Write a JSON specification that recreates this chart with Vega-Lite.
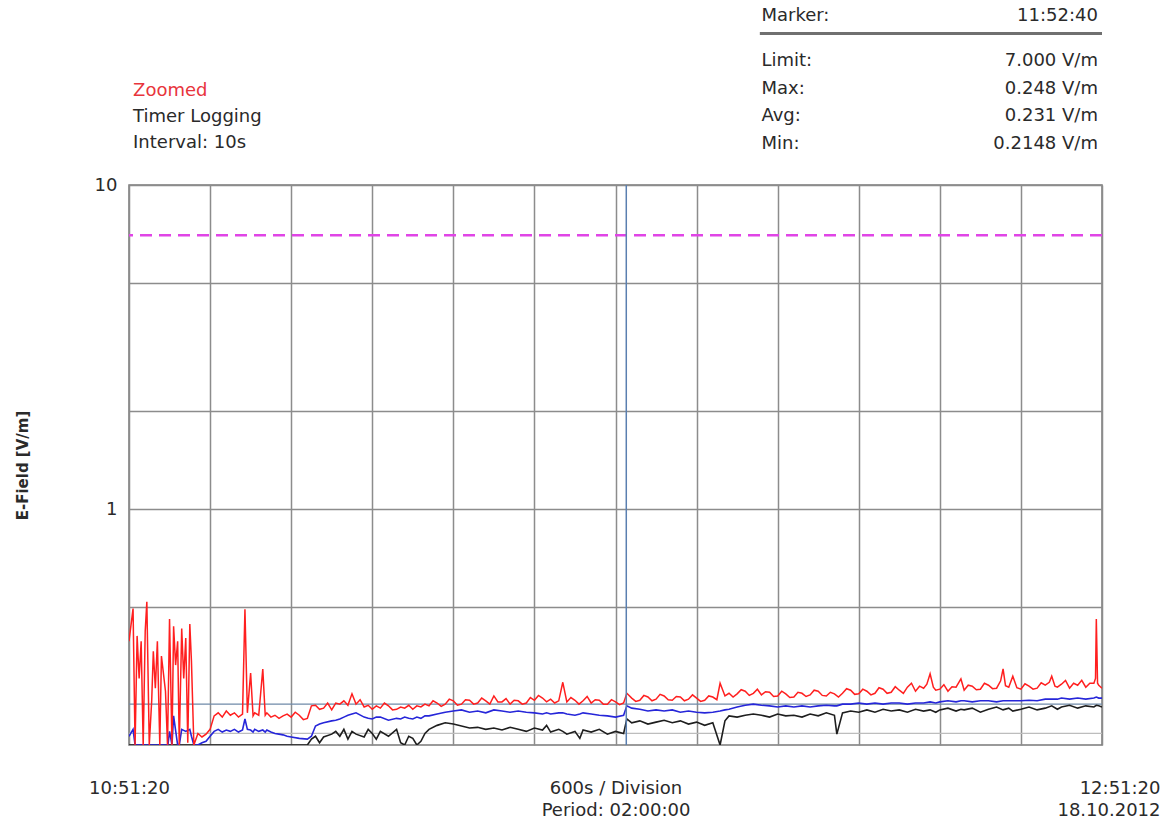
{
  "$schema": "https://vega.github.io/schema/vega-lite/v6.json",
  "background": "white",
  "padding": {"left": 14, "top": 5, "right": 5, "bottom": 5},
  "spacing": 10,
  "config": {"font": "DejaVu Sans", "view": {"stroke": null}},
  "datasets": {
    "trace": [
      {"t":0,"avg":0.199,"min":0.187},
      {"t":0.5,"avg":0.209,"min":0.187},
      {"t":0.75,"avg":0.187,"min":0.187},
      {"t":1,"avg":0.187,"min":0.187},
      {"t":2,"avg":0.187,"min":0.187},
      {"t":3,"avg":0.187,"min":0.187},
      {"t":4,"avg":0.187,"min":0.187},
      {"t":4.8,"avg":0.187,"min":0.187},
      {"t":5,"avg":0.206,"min":0.187},
      {"t":5.3,"avg":0.187,"min":0.187},
      {"t":5.5,"avg":0.230,"min":0.187},
      {"t":6,"avg":0.187,"min":0.187},
      {"t":6.2,"avg":0.187,"min":0.187},
      {"t":6.5,"avg":0.209,"min":0.187},
      {"t":7,"avg":0.206,"min":0.187},
      {"t":7.5,"avg":0.209,"min":0.187},
      {"t":7.7,"avg":0.199,"min":0.187},
      {"t":8,"avg":0.187,"min":0.187},
      {"t":8.5,"avg":0.187,"min":0.187},
      {"t":9,"avg":0.190,"min":0.187},
      {"t":9.5,"avg":0.192,"min":0.187},
      {"t":10,"avg":0.199,"min":0.187},
      {"t":10.5,"avg":0.206,"min":0.187},
      {"t":11,"avg":0.209,"min":0.187},
      {"t":11.5,"avg":0.205,"min":0.187},
      {"t":12,"avg":0.208,"min":0.187},
      {"t":12.5,"avg":0.206,"min":0.187},
      {"t":13,"avg":0.209,"min":0.187},
      {"t":13.5,"avg":0.205,"min":0.187},
      {"t":14,"avg":0.208,"min":0.187},
      {"t":14.3,"avg":0.225,"min":0.187},
      {"t":14.6,"avg":0.209,"min":0.187},
      {"t":15,"avg":0.208,"min":0.187},
      {"t":15.3,"avg":0.205,"min":0.187},
      {"t":15.5,"avg":0.209,"min":0.187},
      {"t":16,"avg":0.206,"min":0.187},
      {"t":16.5,"avg":0.208,"min":0.187},
      {"t":16.8,"avg":0.205,"min":0.187},
      {"t":17,"avg":0.208,"min":0.187},
      {"t":17.5,"avg":0.205,"min":0.187},
      {"t":18,"avg":0.203,"min":0.187},
      {"t":18.5,"avg":0.202,"min":0.187},
      {"t":19,"avg":0.201,"min":0.187},
      {"t":19.5,"avg":0.199,"min":0.187},
      {"t":20,"avg":0.198,"min":0.187},
      {"t":21,"avg":0.196,"min":0.187},
      {"t":22,"avg":0.195,"min":0.187},
      {"t":22.5,"avg":0.199,"min":0.195},
      {"t":23,"avg":0.214,"min":0.199},
      {"t":23.5,"avg":0.217,"min":0.190},
      {"t":24,"avg":0.219,"min":0.198},
      {"t":25,"avg":0.222,"min":0.202},
      {"t":25.5,"avg":0.223,"min":0.206},
      {"t":26,"avg":0.225,"min":0.199},
      {"t":26.5,"avg":0.228,"min":0.209},
      {"t":27,"avg":0.231,"min":0.195},
      {"t":27.5,"avg":0.233,"min":0.206},
      {"t":28,"avg":0.235,"min":0.202},
      {"t":29,"avg":0.228,"min":0.198},
      {"t":29.5,"avg":0.226,"min":0.209},
      {"t":30,"avg":0.225,"min":0.203},
      {"t":30.5,"avg":0.228,"min":0.195},
      {"t":31,"avg":0.228,"min":0.206},
      {"t":32,"avg":0.223,"min":0.199},
      {"t":33,"avg":0.226,"min":0.209},
      {"t":33.5,"avg":0.225,"min":0.190},
      {"t":34,"avg":0.228,"min":0.187},
      {"t":34.5,"avg":0.226,"min":0.199},
      {"t":35,"avg":0.225,"min":0.196},
      {"t":35.5,"avg":0.228,"min":0.187},
      {"t":36,"avg":0.226,"min":0.192},
      {"t":36.5,"avg":0.230,"min":0.203},
      {"t":37,"avg":0.230,"min":0.209},
      {"t":38,"avg":0.233,"min":0.215},
      {"t":39,"avg":0.236,"min":0.219},
      {"t":40,"avg":0.238,"min":0.217},
      {"t":41,"avg":0.240,"min":0.214},
      {"t":42,"avg":0.236,"min":0.211},
      {"t":43,"avg":0.238,"min":0.212},
      {"t":44,"avg":0.235,"min":0.209},
      {"t":45,"avg":0.240,"min":0.211},
      {"t":46,"avg":0.238,"min":0.208},
      {"t":47,"avg":0.236,"min":0.212},
      {"t":48,"avg":0.238,"min":0.209},
      {"t":49,"avg":0.236,"min":0.206},
      {"t":50,"avg":0.235,"min":0.211},
      {"t":51,"avg":0.233,"min":0.208},
      {"t":51.5,"avg":0.235,"min":0.215},
      {"t":52,"avg":0.233,"min":0.205},
      {"t":53,"avg":0.235,"min":0.209},
      {"t":53.5,"avg":0.235,"min":0.206},
      {"t":54,"avg":0.233,"min":0.202},
      {"t":55,"avg":0.231,"min":0.206},
      {"t":55.6,"avg":0.233,"min":0.196},
      {"t":56,"avg":0.235,"min":0.208},
      {"t":57,"avg":0.233,"min":0.205},
      {"t":58,"avg":0.231,"min":0.209},
      {"t":59,"avg":0.230,"min":0.202},
      {"t":60,"avg":0.228,"min":0.206},
      {"t":61,"avg":0.231,"min":0.203},
      {"t":61.4,"avg":0.247,"min":0.225},
      {"t":62,"avg":0.243,"min":0.219},
      {"t":63,"avg":0.241,"min":0.222},
      {"t":64,"avg":0.238,"min":0.217},
      {"t":65,"avg":0.240,"min":0.220},
      {"t":66,"avg":0.238,"min":0.223},
      {"t":67,"avg":0.240,"min":0.219},
      {"t":68,"avg":0.236,"min":0.222},
      {"t":69,"avg":0.238,"min":0.217},
      {"t":70,"avg":0.236,"min":0.220},
      {"t":71,"avg":0.235,"min":0.215},
      {"t":72,"avg":0.236,"min":0.219},
      {"t":72.9,"avg":0.238,"min":0.187},
      {"t":73.5,"avg":0.240,"min":0.222},
      {"t":74,"avg":0.241,"min":0.230},
      {"t":75,"avg":0.245,"min":0.228},
      {"t":76,"avg":0.248,"min":0.231},
      {"t":77,"avg":0.250,"min":0.233},
      {"t":78,"avg":0.248,"min":0.231},
      {"t":79,"avg":0.247,"min":0.228},
      {"t":80,"avg":0.245,"min":0.233},
      {"t":81,"avg":0.247,"min":0.230},
      {"t":82,"avg":0.245,"min":0.231},
      {"t":83,"avg":0.247,"min":0.228},
      {"t":84,"avg":0.245,"min":0.233},
      {"t":85,"avg":0.247,"min":0.230},
      {"t":86,"avg":0.248,"min":0.235},
      {"t":87,"avg":0.247,"min":0.231},
      {"t":87.3,"avg":0.247,"min":0.202},
      {"t":88,"avg":0.250,"min":0.235},
      {"t":89,"avg":0.250,"min":0.238},
      {"t":90,"avg":0.252,"min":0.236},
      {"t":91,"avg":0.250,"min":0.240},
      {"t":92,"avg":0.252,"min":0.236},
      {"t":93,"avg":0.250,"min":0.241},
      {"t":94,"avg":0.252,"min":0.238},
      {"t":95,"avg":0.252,"min":0.240},
      {"t":96,"avg":0.250,"min":0.236},
      {"t":97,"avg":0.252,"min":0.241},
      {"t":98,"avg":0.252,"min":0.238},
      {"t":98.8,"avg":0.254,"min":0.240},
      {"t":99.5,"avg":0.252,"min":0.236},
      {"t":100,"avg":0.254,"min":0.240},
      {"t":101,"avg":0.256,"min":0.243},
      {"t":102,"avg":0.254,"min":0.238},
      {"t":102.6,"avg":0.256,"min":0.241},
      {"t":103,"avg":0.256,"min":0.240},
      {"t":104,"avg":0.254,"min":0.243},
      {"t":105,"avg":0.256,"min":0.236},
      {"t":106,"avg":0.256,"min":0.241},
      {"t":107,"avg":0.254,"min":0.245},
      {"t":107.8,"avg":0.256,"min":0.240},
      {"t":108.5,"avg":0.256,"min":0.243},
      {"t":109,"avg":0.256,"min":0.238},
      {"t":110,"avg":0.256,"min":0.241},
      {"t":111,"avg":0.257,"min":0.245},
      {"t":112,"avg":0.256,"min":0.240},
      {"t":113,"avg":0.259,"min":0.243},
      {"t":113.8,"avg":0.259,"min":0.247},
      {"t":114.5,"avg":0.259,"min":0.241},
      {"t":115,"avg":0.261,"min":0.245},
      {"t":116,"avg":0.259,"min":0.248},
      {"t":117,"avg":0.261,"min":0.243},
      {"t":118,"avg":0.259,"min":0.247},
      {"t":119,"avg":0.261,"min":0.245},
      {"t":119.3,"avg":0.263,"min":0.248},
      {"t":119.6,"avg":0.261,"min":0.247},
      {"t":120,"avg":0.261,"min":0.245}
    ],
    "red": [
      {"t":0,"v":0.391},{"t":0.5,"v":0.493},{"t":0.75,"v":0.187},{"t":1,"v":0.406},{"t":1.25,"v":0.300},{"t":1.5,"v":0.391},
      {"t":1.75,"v":0.187},{"t":2,"v":0.420},{"t":2.2,"v":0.517},{"t":2.5,"v":0.187},{"t":2.8,"v":0.256},{"t":3,"v":0.364},
      {"t":3.25,"v":0.280},{"t":3.5,"v":0.391},{"t":3.8,"v":0.187},{"t":4,"v":0.352},{"t":4.5,"v":0.274},{"t":4.75,"v":0.187},
      {"t":5,"v":0.458},{"t":5.3,"v":0.187},{"t":5.5,"v":0.435},{"t":5.75,"v":0.330},{"t":6,"v":0.391},{"t":6.2,"v":0.187},
      {"t":6.5,"v":0.428},{"t":6.75,"v":0.300},{"t":7,"v":0.400},{"t":7.25,"v":0.190},{"t":7.5,"v":0.442},{"t":7.7,"v":0.340},
      {"t":8,"v":0.187},{"t":8.5,"v":0.203},{"t":9,"v":0.198},{"t":9.5,"v":0.202},{"t":10,"v":0.209},{"t":10.5,"v":0.230},
      {"t":11,"v":0.235},{"t":11.5,"v":0.228},{"t":12,"v":0.238},{"t":12.5,"v":0.231},{"t":13,"v":0.235},{"t":13.5,"v":0.228},
      {"t":14,"v":0.233},{"t":14.3,"v":0.491},{"t":14.6,"v":0.235},{"t":15,"v":0.312},{"t":15.3,"v":0.230},{"t":15.5,"v":0.235},
      {"t":16,"v":0.231},{"t":16.5,"v":0.321},{"t":16.8,"v":0.231},{"t":17,"v":0.235},{"t":17.5,"v":0.228},{"t":18,"v":0.231},
      {"t":18.5,"v":0.226},{"t":19,"v":0.230},{"t":19.5,"v":0.233},{"t":20,"v":0.228},{"t":20.5,"v":0.236},{"t":21,"v":0.231},
      {"t":21.5,"v":0.224},{"t":22,"v":0.226},{"t":22.5,"v":0.247},{"t":23,"v":0.248},{"t":23.5,"v":0.241},{"t":24,"v":0.243},
      {"t":24.5,"v":0.252},{"t":25,"v":0.240},{"t":25.5,"v":0.252},{"t":26,"v":0.250},{"t":26.5,"v":0.256},{"t":27,"v":0.248},
      {"t":27.5,"v":0.269},{"t":28,"v":0.250},{"t":28.5,"v":0.258},{"t":29,"v":0.245},{"t":29.5,"v":0.248},{"t":30,"v":0.241},
      {"t":30.5,"v":0.247},{"t":31,"v":0.243},{"t":31.5,"v":0.252},{"t":32,"v":0.247},{"t":32.5,"v":0.240},{"t":33,"v":0.241},
      {"t":33.5,"v":0.245},{"t":34,"v":0.243},{"t":34.5,"v":0.248},{"t":35,"v":0.241},{"t":35.5,"v":0.247},{"t":36,"v":0.245},
      {"t":36.5,"v":0.250},{"t":37,"v":0.247},{"t":37.5,"v":0.256},{"t":38,"v":0.252},{"t":38.5,"v":0.246},{"t":39,"v":0.250},
      {"t":39.5,"v":0.259},{"t":40,"v":0.256},{"t":40.5,"v":0.248},{"t":41,"v":0.250},{"t":41.5,"v":0.258},{"t":42,"v":0.257},
      {"t":42.5,"v":0.250},{"t":43,"v":0.252},{"t":43.5,"v":0.261},{"t":44,"v":0.256},{"t":44.5,"v":0.250},{"t":45,"v":0.265},
      {"t":45.5,"v":0.254},{"t":46,"v":0.254},{"t":46.5,"v":0.260},{"t":47,"v":0.250},{"t":47.5,"v":0.257},{"t":48,"v":0.256},
      {"t":48.5,"v":0.250},{"t":49,"v":0.252},{"t":49.5,"v":0.262},{"t":50,"v":0.257},{"t":50.5,"v":0.266},{"t":51,"v":0.261},
      {"t":51.5,"v":0.254},{"t":52,"v":0.259},{"t":52.5,"v":0.252},{"t":53,"v":0.256},{"t":53.5,"v":0.292},{"t":54,"v":0.254},
      {"t":54.5,"v":0.262},{"t":55,"v":0.257},{"t":55.5,"v":0.250},{"t":56,"v":0.256},{"t":56.5,"v":0.264},{"t":57,"v":0.252},
      {"t":57.5,"v":0.258},{"t":58,"v":0.257},{"t":58.5,"v":0.250},{"t":59,"v":0.250},{"t":59.5,"v":0.258},{"t":60,"v":0.254},
      {"t":60.5,"v":0.249},{"t":61,"v":0.252},{"t":61.4,"v":0.270},{"t":62,"v":0.261},{"t":62.5,"v":0.255},{"t":63,"v":0.257},
      {"t":63.5,"v":0.266},{"t":64,"v":0.263},{"t":64.5,"v":0.256},{"t":65,"v":0.259},{"t":65.5,"v":0.268},{"t":66,"v":0.265},
      {"t":66.5,"v":0.258},{"t":67,"v":0.257},{"t":67.5,"v":0.264},{"t":68,"v":0.263},{"t":68.5,"v":0.256},{"t":69,"v":0.259},
      {"t":69.5,"v":0.267},{"t":70,"v":0.261},{"t":70.5,"v":0.255},{"t":71,"v":0.257},{"t":71.5,"v":0.265},{"t":72,"v":0.263},
      {"t":72.5,"v":0.258},{"t":72.9,"v":0.290},{"t":73.5,"v":0.265},{"t":74,"v":0.270},{"t":74.5,"v":0.263},{"t":75,"v":0.269},
      {"t":75.5,"v":0.277},{"t":76,"v":0.274},{"t":76.5,"v":0.266},{"t":77,"v":0.270},{"t":77.5,"v":0.278},{"t":78,"v":0.267},
      {"t":78.5,"v":0.273},{"t":79,"v":0.272},{"t":79.5,"v":0.264},{"t":80,"v":0.265},{"t":80.5,"v":0.274},{"t":81,"v":0.269},
      {"t":81.5,"v":0.262},{"t":82,"v":0.263},{"t":82.5,"v":0.272},{"t":83,"v":0.270},{"t":83.5,"v":0.264},{"t":84,"v":0.267},
      {"t":84.5,"v":0.276},{"t":85,"v":0.274},{"t":85.5,"v":0.266},{"t":86,"v":0.265},{"t":86.5,"v":0.272},{"t":87,"v":0.269},
      {"t":87.5,"v":0.263},{"t":88,"v":0.270},{"t":88.5,"v":0.279},{"t":89,"v":0.276},{"t":89.5,"v":0.268},{"t":90,"v":0.269},
      {"t":90.5,"v":0.278},{"t":91,"v":0.274},{"t":91.5,"v":0.267},{"t":92,"v":0.270},{"t":92.5,"v":0.281},{"t":93,"v":0.278},
      {"t":93.5,"v":0.270},{"t":94,"v":0.272},{"t":94.5,"v":0.283},{"t":95,"v":0.276},{"t":95.5,"v":0.270},{"t":96,"v":0.282},
      {"t":96.5,"v":0.290},{"t":97,"v":0.274},{"t":97.5,"v":0.284},{"t":98,"v":0.280},{"t":98.4,"v":0.288},{"t":98.8,"v":0.310},
      {"t":99.2,"v":0.282},{"t":99.5,"v":0.276},{"t":100,"v":0.278},{"t":100.5,"v":0.287},{"t":101,"v":0.274},{"t":101.5,"v":0.283},
      {"t":102,"v":0.282},{"t":102.6,"v":0.299},{"t":103,"v":0.276},{"t":103.5,"v":0.286},{"t":104,"v":0.284},{"t":104.5,"v":0.277},
      {"t":105,"v":0.278},{"t":105.5,"v":0.290},{"t":106,"v":0.286},{"t":106.5,"v":0.279},{"t":107,"v":0.280},{"t":107.5,"v":0.295},
      {"t":107.8,"v":0.321},{"t":108.1,"v":0.285},{"t":108.5,"v":0.282},{"t":109,"v":0.305},{"t":109.5,"v":0.281},{"t":110,"v":0.278},
      {"t":110.5,"v":0.289},{"t":111,"v":0.284},{"t":111.5,"v":0.278},{"t":112,"v":0.280},{"t":112.5,"v":0.291},{"t":113,"v":0.286},
      {"t":113.5,"v":0.292},{"t":113.8,"v":0.305},{"t":114.2,"v":0.284},{"t":114.5,"v":0.282},{"t":115,"v":0.288},{"t":115.5,"v":0.296},
      {"t":116,"v":0.280},{"t":116.5,"v":0.290},{"t":117,"v":0.286},{"t":117.5,"v":0.296},{"t":118,"v":0.282},{"t":118.5,"v":0.290},
      {"t":119,"v":0.290},{"t":119.2,"v":0.300},{"t":119.3,"v":0.458},{"t":119.45,"v":0.290},{"t":119.6,"v":0.286},{"t":120,"v":0.280}
    ],
    "stats": [
      {"label":"Marker:","value":"11:52:40","row":-0.63},
      {"label":"Limit:","value":"7.000 V/m","row":1},
      {"label":"Max:","value":"0.248 V/m","row":2},
      {"label":"Avg:","value":"0.231 V/m","row":3},
      {"label":"Min:","value":"0.2148 V/m","row":4}
    ],
    "info": [
      {"label":"Zoomed","row":2.08},
      {"label":"Timer Logging","row":3.03},
      {"label":"Interval: 10s","row":3.97}
    ]
  },
  "vconcat": [
    {
      "width": 973,
      "height": 160,
      "layer": [
        {
          "data": {"name": "info"},
          "mark": {"type": "text", "align": "left", "baseline": "middle", "fontSize": 18, "font": "DejaVu Sans"},
          "encoding": {
            "x": {"datum": 0.5, "type": "quantitative", "scale": {"domain": [0, 120], "nice": false}, "axis": null},
            "y": {"field": "row", "type": "quantitative", "scale": {"domain": [-1.029, 4.768], "reverse": true, "nice": false, "zero": false}, "axis": null},
            "text": {"field": "label"},
            "color": {"condition": {"test": "datum.label === 'Zoomed'", "value": "#e8343c"}, "value": "#2a2a2a"}
          }
        },
        {
          "data": {"name": "stats"},
          "mark": {"type": "text", "align": "left", "baseline": "middle", "fontSize": 18, "font": "DejaVu Sans", "color": "#2a2a2a"},
          "encoding": {
            "x": {"datum": 78, "type": "quantitative", "scale": {"domain": [0, 120], "nice": false}, "axis": null},
            "y": {"field": "row", "type": "quantitative", "scale": {"domain": [-1.029, 4.768], "reverse": true, "nice": false, "zero": false}, "axis": null},
            "text": {"field": "label"}
          }
        },
        {
          "data": {"name": "stats"},
          "mark": {"type": "text", "align": "right", "baseline": "middle", "fontSize": 18, "font": "DejaVu Sans", "color": "#2a2a2a"},
          "encoding": {
            "x": {"datum": 119.5, "type": "quantitative", "scale": {"domain": [0, 120], "nice": false}, "axis": null},
            "y": {"field": "row", "type": "quantitative", "scale": {"domain": [-1.029, 4.768], "reverse": true, "nice": false, "zero": false}, "axis": null},
            "text": {"field": "value"}
          }
        },
        {
          "data": {"values": [{}]},
          "mark": {"type": "rule", "color": "#707070", "strokeWidth": 3},
          "encoding": {
            "x": {"datum": 77.8, "type": "quantitative", "scale": {"domain": [0, 120], "nice": false}, "axis": null},
            "x2": {"datum": 120},
            "y": {"datum": 0, "type": "quantitative", "scale": {"domain": [-1.029, 4.768], "reverse": true, "nice": false, "zero": false}, "axis": null}
          }
        }
      ]
    },
    {
      "width": 973,
      "height": 560,
      "view": {"stroke": "#7a7a7a", "strokeWidth": 1.5},
      "encoding": {
        "x": {
          "type": "quantitative",
          "scale": {"domain": [0, 120], "nice": false, "zero": false},
          "axis": {
            "values": [0, 10, 20, 30, 40, 50, 60, 70, 80, 90, 100, 110, 120],
            "grid": true, "gridColor": "#8c8c8c", "gridWidth": 1.5,
            "ticks": false, "domain": false, "title": null,
            "labelExpr": "datum.value == 0 ? '10:51:20' : datum.value == 60 ? ['600s / Division', 'Period: 02:00:00'] : datum.value == 120 ? ['12:51:20', '18.10.2012'] : ''",
            "labelFlush": false, "labelOverlap": false, "labelBound": false,
            "labelPadding": 34, "labelFontSize": 18, "labelFont": "DejaVu Sans", "labelColor": "#2a2a2a", "labelLineHeight": 22,
            "labelAlign": {"condition": {"test": "datum.value == 120", "value": "right"}, "value": "center"},
            "labelOffset": {"condition": {"test": "datum.value == 120", "value": 58}, "value": 0}
          }
        },
        "y": {
          "type": "quantitative",
          "scale": {"type": "log", "domain": [0.187, 10], "nice": false},
          "axis": {
            "values": [0.5, 1, 2, 5, 10],
            "grid": true, "gridColor": "#8c8c8c", "gridWidth": 1.5,
            "ticks": false, "domain": false,
            "labelExpr": "datum.value == 10 ? '10' : datum.value == 1 ? '1' : ''",
            "labelPadding": 12, "labelFontSize": 18, "labelFont": "DejaVu Sans", "labelColor": "#2a2a2a",
            "title": "E-Field [V/m]", "titleFontSize": 15, "titleFontWeight": "bold", "titleFont": "DejaVu Sans", "titleColor": "#2a2a2a", "titlePadding": 64
          }
        }
      },
      "layer": [
        {
          "data": {"values": [{}]},
          "mark": {"type": "rule", "color": "#6f8aa8", "strokeWidth": 1.3},
          "encoding": {"y": {"datum": 0.25}}
        },
        {
          "data": {"values": [{}]},
          "mark": {"type": "rule", "color": "#bdbdbd", "strokeWidth": 1.2},
          "encoding": {"y": {"datum": 0.203}}
        },
        {
          "data": {"name": "trace"},
          "mark": {"type": "line", "clip": true, "color": "#1e1e1e", "strokeWidth": 1.6},
          "encoding": {"x": {"field": "t"}, "y": {"field": "min"}}
        },
        {
          "data": {"name": "trace"},
          "mark": {"type": "line", "clip": true, "color": "#2626d9", "strokeWidth": 1.6},
          "encoding": {"x": {"field": "t"}, "y": {"field": "avg"}}
        },
        {
          "data": {"name": "red"},
          "mark": {"type": "line", "clip": true, "color": "#ff1f1f", "strokeWidth": 1.5},
          "encoding": {"x": {"field": "t"}, "y": {"field": "v"}}
        },
        {
          "data": {"values": [{}]},
          "mark": {"type": "rule", "color": "#e045e6", "strokeWidth": 2.5, "strokeDash": [12, 7]},
          "encoding": {"y": {"datum": 7}}
        },
        {
          "data": {"values": [{}]},
          "mark": {"type": "rule", "color": "#5a7fb0", "strokeWidth": 1.5},
          "encoding": {"x": {"datum": 61.33}}
        }
      ]
    }
  ]
}
